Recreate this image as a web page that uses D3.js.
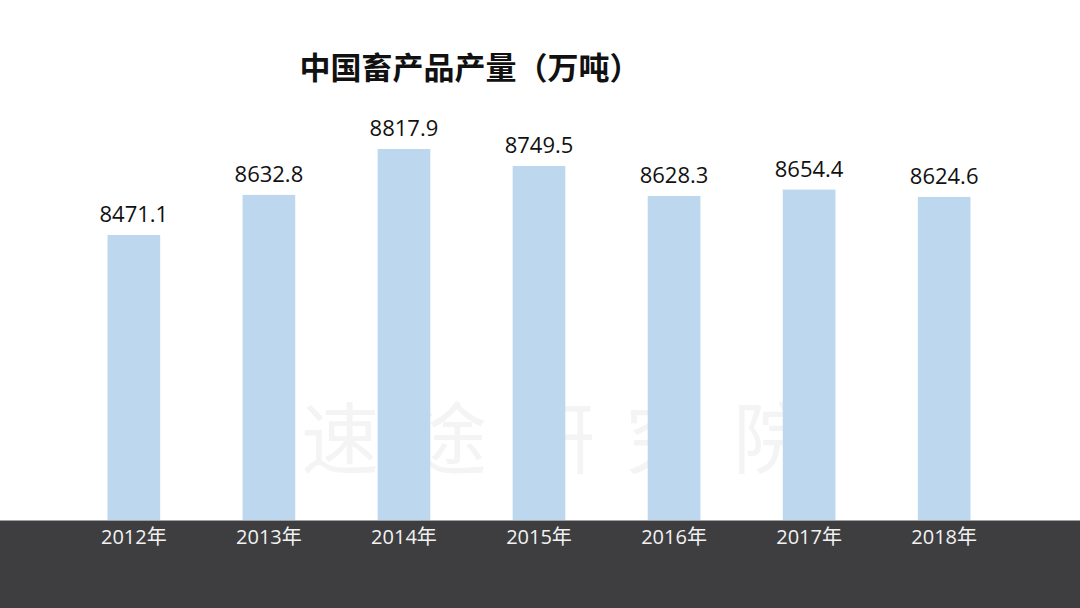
<!DOCTYPE html>
<html><head><meta charset="utf-8">
<script src="https://cdn.jsdelivr.net/npm/d3@7"></script>
<style>body{margin:0;background:#fff}svg{display:block}</style>
</head><body>
<script>
const categories = ["2012年","2013年","2014年","2015年","2016年","2017年","2018年"];
const values = [8471.1, 8632.8, 8817.9, 8749.5, 8628.3, 8654.4, 8624.6];
const title = "中国畜产品产量（万吨）";
const watermark = ["速","途","研","究","院"];

const W = 1080, H = 608;
const svg = d3.select("body").append("svg").attr("width", W).attr("height", H);
const base = 520;

// watermark
const wm = svg.append("g");
wm.selectAll("text").data(watermark).join("text")
  .attr("x", (d,i) => 340 + i*108).attr("y", 468)
  .attr("text-anchor","middle")
  .attr("font-family","Noto Sans CJK SC").attr("font-size", 78)
  .attr("fill", "#f4f4f4").text(d => d);

const x = d3.scaleBand().domain(categories).range([67, 1011]).paddingInner(0.61).paddingOuter(0.3);
const y = d3.scaleLinear().domain([7322, 8817.9]).range([base, 149]);

svg.append("g").selectAll("rect").data(values).join("rect")
  .attr("x", (d,i) => x(categories[i]))
  .attr("width", x.bandwidth())
  .attr("y", d => y(d))
  .attr("height", d => base - y(d))
  .attr("fill", "#bdd7ee");

svg.append("g").selectAll("text").data(values).join("text")
  .attr("x", (d,i) => x(categories[i]) + x.bandwidth()/2)
  .attr("y", d => y(d) - 13)
  .attr("text-anchor","middle")
  .attr("font-family","Open Sans, Noto Sans, sans-serif")
  .attr("font-size", 22).attr("fill","#111")
  .text(d => d.toFixed(1));

// dark band
svg.append("rect").attr("x",0).attr("y",base).attr("width",W).attr("height",H-base).attr("fill","#3e3e40");
svg.append("line").attr("x1",0).attr("x2",W).attr("y1",base+0.5).attr("y2",base+0.5).attr("stroke","#a0a0a0").attr("stroke-width",1);

const xAxis = d3.axisBottom(x).tickSize(0).tickPadding(0);
const gx = svg.append("g").attr("transform", `translate(0,${base})`).call(xAxis);
gx.select(".domain").remove();
gx.selectAll("text").attr("y", 24).attr("dy", 0)
  .attr("font-family","Open Sans, Noto Sans CJK SC, sans-serif")
  .attr("font-size", 20).attr("fill","#f2f2f2");

svg.append("text").attr("x", 470).attr("y", 79).attr("text-anchor","middle")
  .attr("font-family","Noto Sans CJK SC").attr("font-weight","bold")
  .attr("font-size", 31).attr("fill","#111").text(title);
</script>
</body></html>
